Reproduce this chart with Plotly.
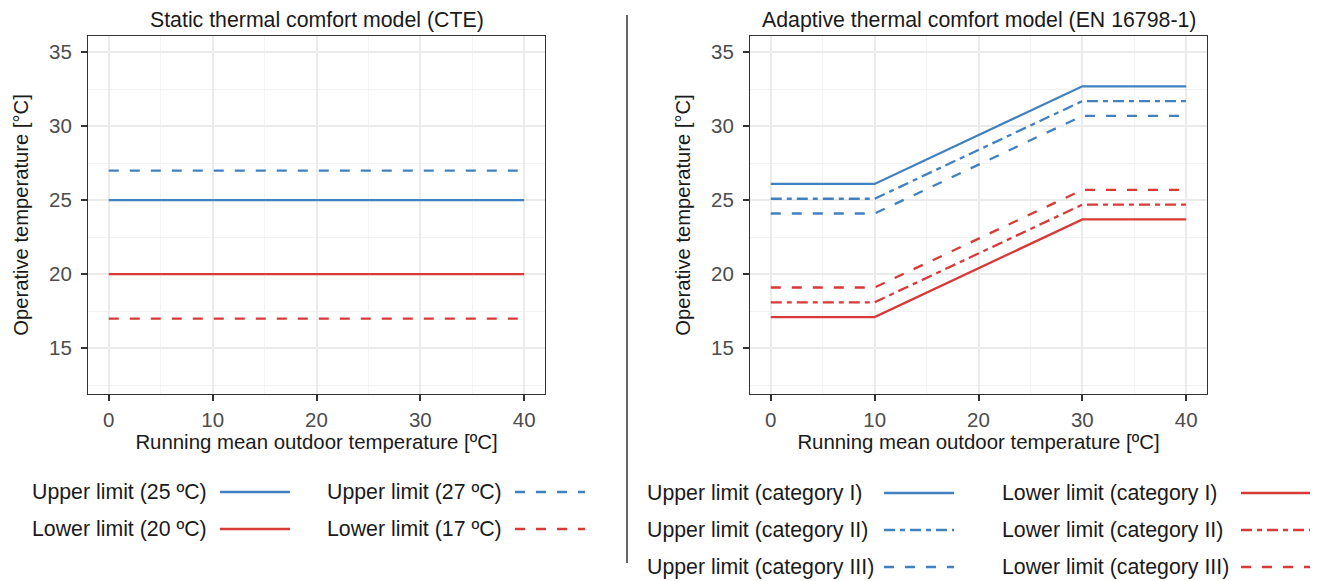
import plotly.graph_objects as go

# ---------------- data ----------------
static_x = [0, 40]
static_upper_25 = [25, 25]
static_lower_20 = [20, 20]
static_upper_27 = [27, 27]
static_lower_17 = [17, 17]

adaptive_x = [0, 10, 30, 40]
upper_cat_I = [26.1, 26.1, 32.7, 32.7]
upper_cat_II = [25.1, 25.1, 31.7, 31.7]
upper_cat_III = [24.1, 24.1, 30.7, 30.7]
lower_cat_I = [17.1, 17.1, 23.7, 23.7]
lower_cat_II = [18.1, 18.1, 24.7, 24.7]
lower_cat_III = [19.1, 19.1, 25.7, 25.7]

static_labels = ["Upper limit (25 ºC)", "Lower limit (20 ºC)",
                 "Upper limit (27 ºC)", "Lower limit (17 ºC)"]
adaptive_labels = ["Upper limit (category I)", "Upper limit (category II)",
                   "Upper limit (category III)", "Lower limit (category I)",
                   "Lower limit (category II)", "Lower limit (category III)"]

x_ticks = [0, 10, 20, 30, 40]
y_ticks = [15, 20, 25, 30, 35]

# ---------------- style ----------------
W, H = 1320, 581
BLUE = "#4281C1"
RED = "#D83A38"
LW = 2.3
DASH = "10px,11px"
DASHDOT = "11px,5px,5px,5px"
FONT = "Liberation Sans, Arial, sans-serif"


def px(x):
    return x / W


def py(y):
    return 1 - y / H


fig = go.Figure()

# left panel
for yv, col, dash in [(static_upper_25, BLUE, "solid"), (static_lower_20, RED, "solid"),
                      (static_upper_27, BLUE, DASH), (static_lower_17, RED, DASH)]:
    fig.add_trace(go.Scatter(x=static_x, y=yv, mode="lines", showlegend=False,
                             line=dict(color=col, width=LW, dash=dash),
                             xaxis="x", yaxis="y"))

# right panel
for yv, col, dash in [(upper_cat_I, BLUE, "solid"), (upper_cat_II, BLUE, DASHDOT),
                      (upper_cat_III, BLUE, DASH), (lower_cat_I, RED, "solid"),
                      (lower_cat_II, RED, DASHDOT), (lower_cat_III, RED, DASH)]:
    fig.add_trace(go.Scatter(x=adaptive_x, y=yv, mode="lines", showlegend=False,
                             line=dict(color=col, width=LW, dash=dash),
                             xaxis="x2", yaxis="y2"))

common_x = dict(range=[-2, 42], tickvals=x_ticks, ticks="outside", ticklen=6,
                tickwidth=1.5, tickcolor="#333333", showline=True, mirror=True,
                linecolor="#333333", linewidth=1.2, showgrid=True,
                gridcolor="#EBEBEB", gridwidth=1.6, zeroline=False,
                tickfont=dict(family=FONT, size=20.5, color="#4D4D4D"),
                minor=dict(dtick=5, tick0=0, showgrid=True, gridcolor="#F3F3F3",
                           gridwidth=1, ticklen=0),
                title=dict(text="Running mean outdoor temperature [ºC]",
                           font=dict(family=FONT, size=20.4, color="#1A1A1A"),
                           standoff=3),
                ticklabelstandoff=1)
common_y = dict(range=[11.9, 36.1], tickvals=y_ticks, ticks="outside", ticklen=6,
                tickwidth=1.5, tickcolor="#333333", showline=True, mirror=True,
                linecolor="#333333", linewidth=1.2, showgrid=True,
                gridcolor="#EBEBEB", gridwidth=1.6, zeroline=False,
                tickfont=dict(family=FONT, size=20.5, color="#4D4D4D"),
                minor=dict(dtick=2.5, tick0=0, showgrid=True, gridcolor="#F3F3F3",
                           gridwidth=1, ticklen=0),
                title=dict(text="Operative temperature [°C]",
                           font=dict(family=FONT, size=20.2, color="#1A1A1A"),
                           standoff=14),
                ticklabelstandoff=5)

ydom = [py(394), py(36)]
fig.update_layout(
    width=W, height=H, margin=dict(l=0, r=0, t=0, b=0),
    paper_bgcolor="white", plot_bgcolor="white",
    font=dict(family=FONT, color="#1A1A1A"),
    xaxis=dict(domain=[px(88), px(545)], anchor="y", **common_x),
    yaxis=dict(domain=ydom, anchor="x", **common_y),
    xaxis2=dict(domain=[px(750), px(1207)], anchor="y2", **common_x),
    yaxis2=dict(domain=ydom, anchor="x2", **common_y),
)

# panel titles
for text, cx in [("Static thermal comfort model (CTE)", 316.5),
                 ("Adaptive thermal comfort model (EN 16798-1)", 978.5)]:
    fig.add_annotation(text=text, x=px(cx), y=py(20), xref="paper", yref="paper",
                       xanchor="center", yanchor="middle", showarrow=False,
                       font=dict(family=FONT, size=21.3, color="#1A1A1A"))

# separator
fig.add_shape(type="line", xref="paper", yref="paper", x0=px(627), x1=px(627),
              y0=py(15), y1=py(563), line=dict(color="#333333", width=1.5))


# manual legends (label then key)
def legend_entry(label, tx, kx0, kx1, ty, col, dash):
    fig.add_annotation(text=label, x=px(tx), y=py(ty), xref="paper", yref="paper",
                       xanchor="left", yanchor="middle", showarrow=False,
                       font=dict(family=FONT, size=21.3, color="#1A1A1A"))
    fig.add_shape(type="line", xref="paper", yref="paper", x0=px(kx0), x1=px(kx1),
                  y0=py(ty), y1=py(ty), line=dict(color=col, width=LW, dash=dash))


left_specs = [(BLUE, "solid"), (RED, "solid"), (BLUE, DASH), (RED, DASH)]
left_pos = [(30, 220, 290, 492), (30, 220, 290, 529),
            (325, 515, 585, 492), (325, 515, 585, 529)]
for lab, (col, dash), (tx, k0, k1, ty) in zip(static_labels, left_specs, left_pos):
    legend_entry(lab, tx, k0, k1, ty, col, dash)

right_specs = [(BLUE, "solid"), (BLUE, DASHDOT), (BLUE, DASH),
               (RED, "solid"), (RED, DASHDOT), (RED, DASH)]
right_pos = [(645, 884, 954, 493), (645, 884, 954, 530), (645, 884, 954, 567),
             (1000, 1241, 1310, 493), (1000, 1241, 1310, 530), (1000, 1241, 1310, 567)]
for lab, (col, dash), (tx, k0, k1, ty) in zip(adaptive_labels, right_specs, right_pos):
    legend_entry(lab, tx, k0, k1, ty, col, dash)

fig.write_html("out.html",
               config={"displayModeBar": False},
               post_script="document.body.style.margin='0';"
                           "document.body.style.overflow='hidden';")
